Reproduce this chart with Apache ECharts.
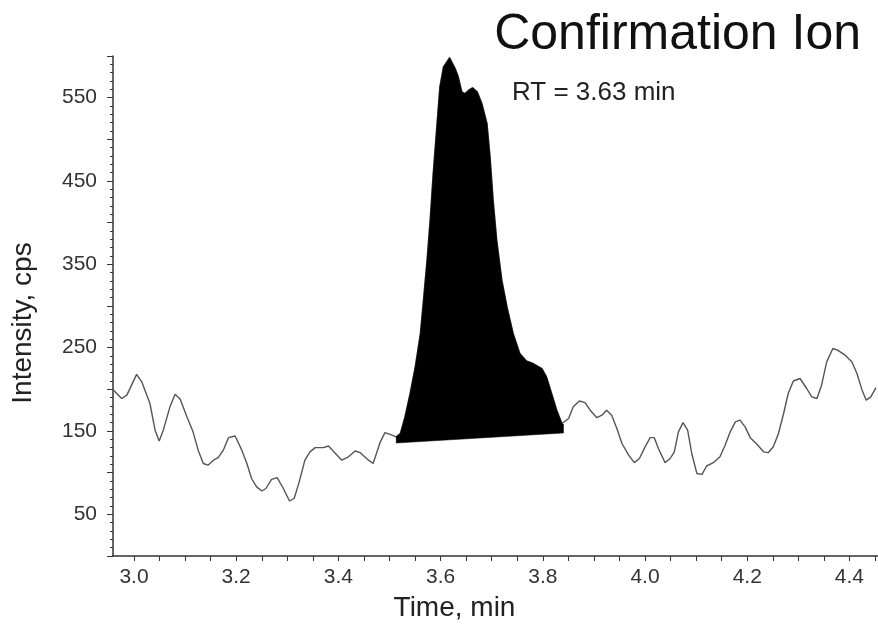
<!DOCTYPE html>
<html><head><meta charset="utf-8">
<script src="https://cdn.jsdelivr.net/npm/echarts@6/dist/echarts.min.js"></script>
<style>html,body{margin:0;padding:0;background:#fff}#c{width:878px;height:630px}</style>
</head><body><div id="c"></div>
<script>
// Trace before the integrated peak
const leftT = [2.960,2.976,2.986,3.005,3.015,3.031,3.041,3.049,3.057,3.070,3.080,3.090,3.103,3.115,3.125,3.135,3.144,3.155,3.164,3.174,3.184,3.197,3.210,3.220,3.229,3.239,3.249,3.257,3.268,3.279,3.291,3.303,3.312,3.322,3.333,3.343,3.353,3.369,3.379,3.388,3.405,3.418,3.431,3.441,3.457,3.466,3.480,3.489,3.499];
const leftI = [199,189,193,218,209,183,151,138,151,179,194,188,167,149,127,111,109,115,118,127,142,144,127,111,93,83,78,81,92,94,81,66,69,89,115,125,130,130,132,126,115,119,126,124,115,111,137,148,146];
// Integrated peak
const peakT = [3.511,3.519,3.528,3.538,3.548,3.558,3.564,3.571,3.577,3.583,3.590,3.596,3.603,3.615,3.626,3.632,3.639,3.645,3.652,3.660,3.669,3.678,3.688,3.694,3.700,3.707,3.717,3.727,3.739,3.752,3.765,3.778,3.795,3.804,3.814,3.824,3.834,3.837];
const peakI = [143,147,167,195,227,267,307,355,403,459,515,563,587,598,585,575,557,555,559,562,557,543,519,479,427,379,331,299,267,243,234,231,225,215,195,175,159,158];
// Peak baseline end points
const baseT = [3.511, 3.837];
const baseI = [135.6, 147.6];
// Trace after the peak
const rightT = [3.847,3.856,3.868,3.879,3.889,3.902,3.912,3.921,3.931,3.941,3.951,3.964,3.975,3.985,3.996,4.006,4.014,4.022,4.035,4.045,4.053,4.061,4.070,4.079,4.087,4.097,4.107,4.116,4.129,4.142,4.152,4.162,4.172,4.181,4.191,4.201,4.214,4.227,4.236,4.246,4.256,4.266,4.275,4.285,4.298,4.311,4.321,4.331,4.340,4.350,4.362,4.371,4.386,4.399,4.409,4.419,4.427,4.436,4.446];
const rightI = [165,179,186,184,175,166,169,175,169,153,135,121,112,117,131,142,142,129,112,117,125,149,160,151,123,99,98,108,112,119,133,149,161,163,155,142,134,125,124,131,147,171,195,210,213,201,191,189,205,233,249,247,241,233,219,199,187,191,202];
// Tick labels
const xTickLabels = ['3.0','3.2','3.4','3.6','3.8','4.0','4.2','4.4'];
const yTickLabels = ['50','150','250','350','450','550'];

const allT = leftT.concat(peakT, rightT);
const allI = leftI.concat(peakI, rightI);
const lineData = allT.map((t, i) => [t, allI[i]]);

const FONT = 'Liberation Sans, Arial, sans-serif';
const chart = echarts.init(document.getElementById('c'));
chart.setOption({
  animation: false,
  backgroundColor: '#fff',
  title: [
    {text: 'Confirmation Ion', right: 12, top: 5,
     textStyle: {fontSize: 50, fontWeight: 'normal', color: '#111', fontFamily: FONT}},
    {text: 'RT = 3.63 min', left: 507, top: 75,
     textStyle: {fontSize: 26, fontWeight: 'normal', color: '#222', fontFamily: FONT}}
  ],
  grid: [
    {left: 113, right: 0, top: 56, bottom: 74},
    {left: 134, right: 0, top: 56, bottom: 74}
  ],
  xAxis: [
    {gridIndex: 0, type: 'value', min: 2.959, max: 4.45,
     axisLine: {show: true, lineStyle: {color: '#333', width: 1.5}},
     axisTick: {show: false}, axisLabel: {show: false}, splitLine: {show: false},
     name: 'Time, min', nameLocation: 'middle', nameGap: 38,
     nameTextStyle: {fontSize: 28, color: '#222', fontFamily: FONT, padding: [0, 82, 0, 0]}},
    {gridIndex: 1, type: 'value', min: 3.0, max: 4.45, interval: 0.05,
     axisLine: {show: false},
     axisTick: {show: true, length: 5, lineStyle: {color: '#333', width: 1}},
     axisLabel: {margin: 11, fontSize: 21, color: '#333', fontFamily: FONT,
       formatter: v => { const s = v.toFixed(1); return (Math.abs(v - parseFloat(s)) < 1e-6 && xTickLabels.indexOf(s) >= 0) ? s : ''; }},
     splitLine: {show: false}}
  ],
  yAxis: [
    {gridIndex: 0, type: 'value', min: 0, max: 600, interval: 50,
     axisLine: {show: true, lineStyle: {color: '#333', width: 1.5}},
     axisTick: {show: true, length: 6, lineStyle: {color: '#333', width: 1}},
     minorTick: {show: true, splitNumber: 5, length: 3, lineStyle: {color: '#333', width: 1}},
     axisLabel: {margin: 16, fontSize: 21, color: '#333', fontFamily: FONT,
       formatter: v => { const s = String(Math.round(v)); return yTickLabels.indexOf(s) >= 0 ? s : ''; }},
     splitLine: {show: false},
     name: 'Intensity, cps', nameLocation: 'middle', nameGap: 76,
     nameTextStyle: {fontSize: 28, color: '#222', fontFamily: FONT, padding: [0, 34, 0, 0]}},
    {gridIndex: 1, type: 'value', min: 0, max: 600, show: false}
  ],
  series: [
    {type: 'line', xAxisIndex: 0, yAxisIndex: 0, data: lineData, showSymbol: false,
     lineStyle: {color: '#555', width: 1.4}, z: 2, silent: true},
    {type: 'custom', coordinateSystem: 'cartesian2d', xAxisIndex: 0, yAxisIndex: 0, z: 3,
     data: [[peakT[0], peakI[0]]],
     renderItem: function (params, api) {
       if (params.dataIndex !== 0) return null;
       const pts = peakT.map((t, i) => api.coord([t, peakI[i]]));
       pts.push(api.coord([baseT[1], baseI[1]]));
       pts.push(api.coord([baseT[0], baseI[0]]));
       return {type: 'polygon', shape: {points: pts}, style: {fill: '#000', stroke: '#000', lineWidth: 0.5}};
     }}
  ]
});
</script></body></html>
